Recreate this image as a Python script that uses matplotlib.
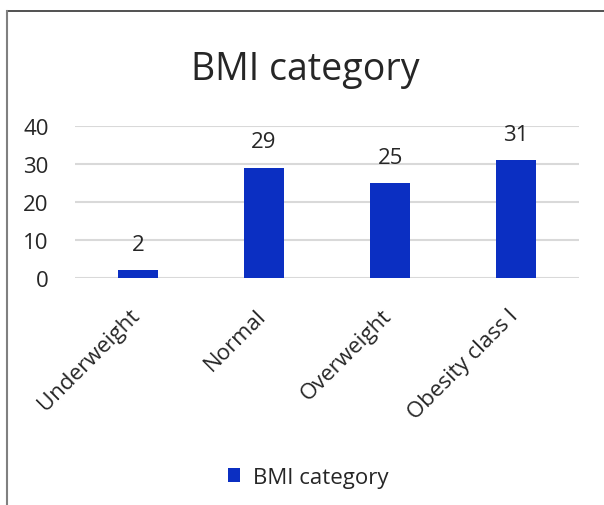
import matplotlib

matplotlib.use("Agg")
import matplotlib.pyplot as plt
import matplotlib.transforms as mtransforms
from matplotlib.lines import Line2D
from matplotlib.patches import Patch

# Datos del gráfico
categories = ["Underweight", "Normal", "Overweight", "Obesity class I"]
counts = [2, 29, 25, 31]
y_ticks = [0, 10, 20, 30, 40]
series_name = "BMI category"

BAR_COLOR = "#0B2FC2"
GRID_COLOR = "#D9D9D9"
TEXT_COLOR = "#262626"

plt.rcParams["font.family"] = ["Open Sans", "DejaVu Sans"]

fig = plt.figure(figsize=(6.04, 5.06), dpi=100)
ax = fig.add_axes([0.124, 0.449, 0.835, 0.300])

x = list(range(len(categories)))
bars = ax.bar(x, counts, width=0.32, color=BAR_COLOR, zorder=3)

ax.set_xlim(-0.5, len(categories) - 0.5)
ax.set_ylim(0, 40)
ax.set_yticks(y_ticks)
ax.yaxis.grid(True, color=GRID_COLOR, linewidth=1.5, zorder=0)
for s in ax.spines.values():
    s.set_visible(False)
ax.tick_params(axis="both", length=0, labelsize=16, labelcolor=TEXT_COLOR)
ax.tick_params(axis="y", pad=19)

ax.set_xticks(x)
ax.set_xticklabels(categories, rotation=45, ha="right", va="top",
                   rotation_mode="anchor", fontsize=16, color=TEXT_COLOR)
shift = mtransforms.ScaledTranslation(-9 / 100, -22 / 100, fig.dpi_scale_trans)
for lbl in ax.get_xticklabels():
    lbl.set_transform(lbl.get_transform() + shift)

for rect, v in zip(bars, counts):
    ax.annotate(str(v), (rect.get_x() + rect.get_width() / 2, v),
                xytext=(0, 11), textcoords="offset points",
                ha="center", va="bottom", fontsize=16, color=TEXT_COLOR)

fig.text(0.505, 0.862, "BMI category", ha="center", va="center",
         fontsize=27, color=TEXT_COLOR)

fig.legend(handles=[Patch(facecolor=BAR_COLOR, label=series_name)],
           loc="center", bbox_to_anchor=(0.51, 0.055), frameon=False,
           fontsize=16, handlelength=0.55, handleheight=0.55, handletextpad=0.6,
           labelcolor=TEXT_COLOR)

# Marco parcial del recorte original (arriba e izquierda)
fig.add_artist(Line2D([0.012, 1.0], [0.976, 0.976], transform=fig.transFigure,
                      color="#333333", linewidth=1.2))
fig.add_artist(Line2D([0.012, 0.012], [0.0, 0.976], transform=fig.transFigure,
                      color="#808080", linewidth=1.5))

fig.savefig("out.png", dpi=100)
